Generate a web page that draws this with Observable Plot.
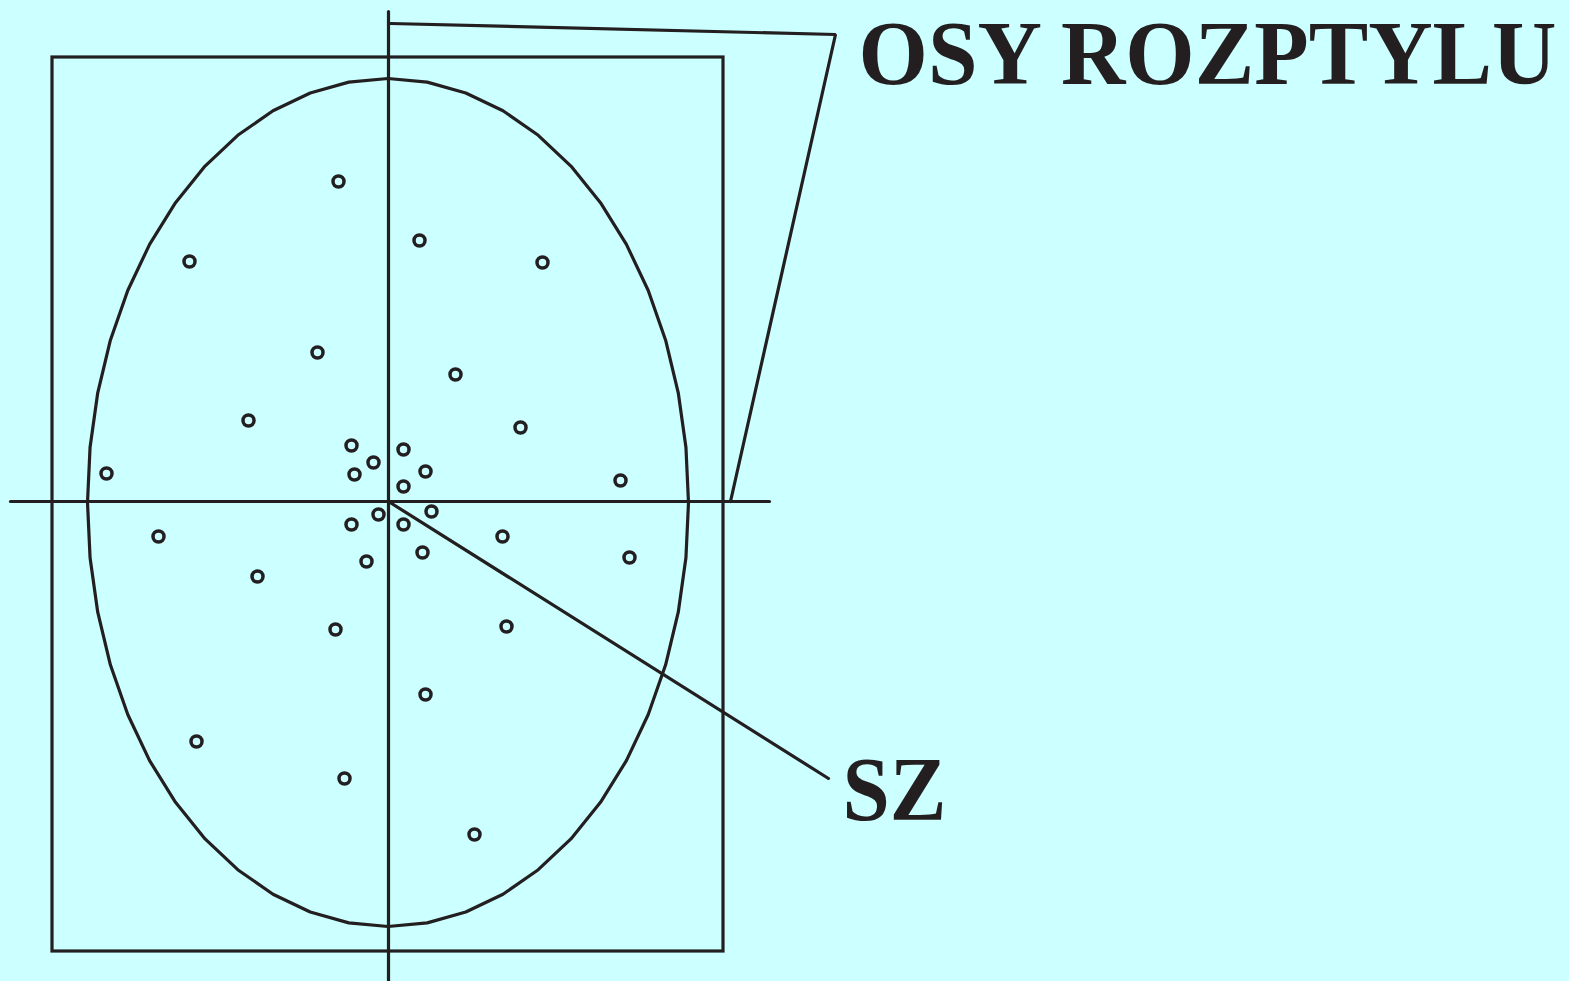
<!DOCTYPE html>
<html>
<head>
<meta charset="utf-8">
<script src="https://cdn.jsdelivr.net/npm/d3@7"></script>
<script src="https://cdn.jsdelivr.net/npm/@observablehq/plot@0.6"></script>
<style>
  html, body { margin: 0; padding: 0; background: #ccffff; }
  #chart svg { display: block; background: #ccffff; }
</style>
</head>
<body>
<div id="chart"></div>
<script>
// Scatter points (x to the right, y upwards, origin at the crossing of the axes)
const pointX = [-50, -199, 31, 154, -71, 67, -140, 132, -37, 15, -15, -34, 37, -282, 232, 15,
                43, -10, -37, 15, -230, 114, 34, 241, -22, -131, -53, 118, 37, -192, -44, 86];
const pointY = [320, 240, 261, 239, 149, 127, 81, 74, 56, 52, 39, 27, 30, 28, 21, 15,
                -10, -13, -23, -23, -35, -35, -51, -56, -60, -75, -128, -125, -193, -240, -277, -333];

// Frame rectangle
const frameX = [-336, 335];
const frameY = [444, -450];

// Scatter axes
const vAxisY = [490, -480];
const hAxisX = [-378, 381];

// Dispersion ellipse
const ellipseCenter = [-0.5, -1];
const ellipseRadii = [300.5, 424];
const ellipseSegments = 48;

// Leader lines
const leaderAxesX = [2, 447, 342];
const leaderAxesY = [478, 467, 0];
const leaderSZX = [0, 440];
const leaderSZY = [0, -277];

// Labels
const labels = ["OSY ROZPTYLU", "SZ"];
const labelX = [470, 454];
const labelY = [418, -318];

const ink = "#231f20";

const points = pointX.map((x, i) => ({x, y: pointY[i]}));
const ellipse = d3.range(ellipseSegments + 1).map(i => {
  const t = (i / ellipseSegments) * 2 * Math.PI;
  return {x: ellipseCenter[0] + ellipseRadii[0] * Math.cos(t), y: ellipseCenter[1] + ellipseRadii[1] * Math.sin(t)};
});
const leaderAxes = leaderAxesX.map((x, i) => ({x, y: leaderAxesY[i]}));
const leaderSZ = leaderSZX.map((x, i) => ({x, y: leaderSZY[i]}));
const labelData = labels.map((t, i) => ({t, x: labelX[i], y: labelY[i]}));

const sw = 3.2;
const chart = Plot.plot({
  width: 1569,
  height: 981,
  margin: 0,
  x: {domain: [-388, 1181], axis: null},
  y: {domain: [-480, 501], axis: null},
  style: {background: "#ccffff"},
  marks: [
    Plot.rect([{}], {x1: frameX[0], x2: frameX[1], y1: frameY[0], y2: frameY[1], fill: "none", stroke: ink, strokeWidth: sw}),
    Plot.line(ellipse, {x: "x", y: "y", stroke: ink, strokeWidth: sw, curve: "linear"}),
    Plot.line([{x: 0, y: vAxisY[0]}, {x: 0, y: vAxisY[1]}], {x: "x", y: "y", stroke: ink, strokeWidth: sw}),
    Plot.line([{x: hAxisX[0], y: 0}, {x: hAxisX[1], y: 0}], {x: "x", y: "y", stroke: ink, strokeWidth: sw}),
    Plot.line(leaderAxes, {x: "x", y: "y", stroke: ink, strokeWidth: sw, strokeLinejoin: "miter"}),
    Plot.line(leaderSZ, {x: "x", y: "y", stroke: ink, strokeWidth: sw}),
    Plot.dot(points, {x: "x", y: "y", r: 5.5, stroke: ink, strokeWidth: 3.5, fill: "none"}),
    Plot.text(labelData, {x: "x", y: "y", text: "t", textAnchor: "start", lineAnchor: "bottom",
      fill: ink, fontSize: 90, fontWeight: "bold", fontFamily: "'Liberation Serif', 'DejaVu Serif', serif"})
  ]
});

const lengths = [698, 104];
d3.select(chart).selectAll("g[aria-label='text'] text").each(function(d, i) {
  d3.select(this).attr("textLength", lengths[i]).attr("lengthAdjust", "spacingAndGlyphs");
});

document.getElementById("chart").appendChild(chart);
</script>
</body>
</html>
